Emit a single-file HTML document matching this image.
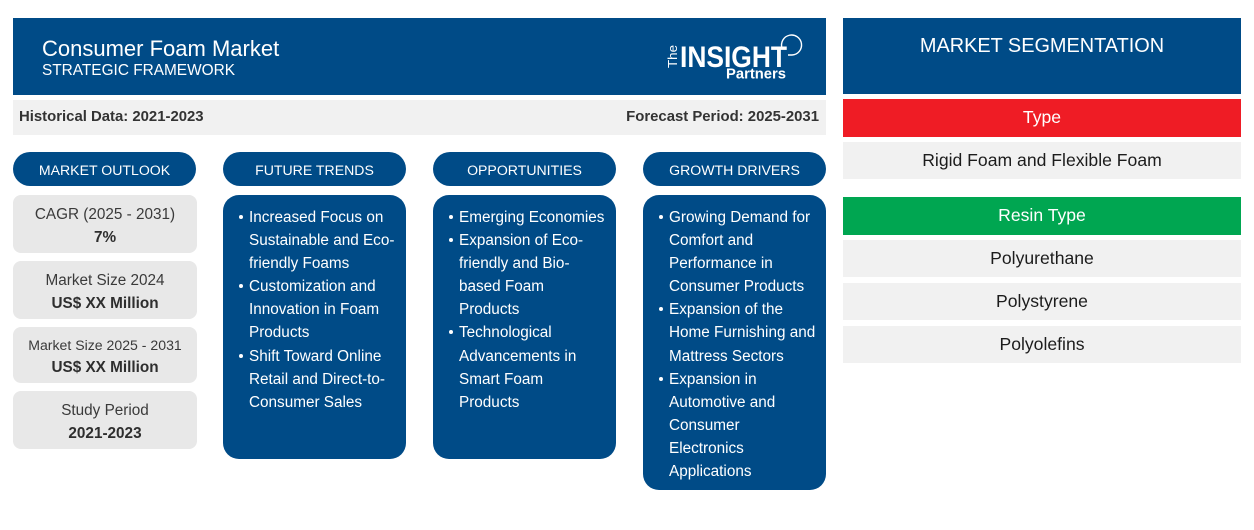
<!DOCTYPE html>
<html lang="en">
<head>
<meta charset="utf-8">
<title>Consumer Foam Market</title>
<style>
html,body{margin:0;padding:0;background:#fff}
body{width:1254px;height:530px;position:relative;overflow:hidden;font-family:"Liberation Sans",Arial,sans-serif}
div,span,ul,li{box-sizing:border-box}
.a{position:absolute}
.navy{background:#004b87;color:#fff}
.pill{top:152px;width:183px;height:34px;border-radius:17px;text-align:center;font-size:14.1px;line-height:36px}
.stat{left:13px;width:184px;background:#e8e8e8;border-radius:8px;text-align:center;color:#3a3a3a;font-size:15.3px}
.stat .l{position:absolute;left:0;width:100%;line-height:20px}
.stat b{position:absolute;left:0;width:100%;line-height:20px;color:#2e2e2e}
.card{top:195px;width:183px;border-radius:16px}
.card ul{list-style:none;margin:0;padding:0;position:absolute;top:10.6px;left:16px;font-size:15.3px;line-height:23.15px;white-space:nowrap}
.card li{position:relative;padding-left:10px}
.card li:before{content:"";position:absolute;left:0;top:9px;width:4px;height:4px;border-radius:50%;background:#fff}
.seg{left:843px;width:398px;text-align:center}
.item{background:#f1f1f1;color:#1c1c1c;font-size:17.6px;height:37px;line-height:37px}
.head{color:#fff;font-size:17.6px;height:38px;line-height:37px}
</style>
</head>
<body>

<div class="a navy" style="left:13px;top:18px;width:813px;height:77px">
  <div class="a" style="left:29px;top:17px;font-size:22px;line-height:27px;white-space:nowrap">Consumer Foam Market</div>
  <div class="a" style="left:29px;top:43px;font-size:15.4px;line-height:19px;white-space:nowrap">STRATEGIC FRAMEWORK</div>
  <svg class="a" style="left:650px;top:12px" width="145" height="56" viewBox="0 0 145 56">
    <text x="14" y="38" transform="rotate(-90 14 38)" font-family="Liberation Sans, Arial, sans-serif" font-size="13" fill="#fff" textLength="23" lengthAdjust="spacingAndGlyphs">The</text>
    <text x="17" y="37" font-family="Liberation Sans, Arial, sans-serif" font-size="30" font-weight="bold" fill="#fff" textLength="107" lengthAdjust="spacingAndGlyphs">INSIGHT</text>
    <text x="63" y="48.5" font-family="Liberation Sans, Arial, sans-serif" font-size="15" font-weight="bold" fill="#fff" textLength="60" lengthAdjust="spacingAndGlyphs">Partners</text>
    <path d="M119 18 A10 10 0 1 1 129 25 L125 25" fill="none" stroke="#fff" stroke-width="1.4"/>
  </svg>
</div>

<div class="a" style="left:13px;top:100px;width:813px;height:35px;background:#f1f1f1;color:#333;font-size:14.9px;font-weight:bold;line-height:35px">
  <span class="a" style="left:6px;white-space:nowrap">Historical Data: 2021-2023</span>
  <span class="a" style="right:7px;white-space:nowrap">Forecast Period: 2025-2031</span>
</div>

<div class="a navy pill" style="left:13px">MARKET OUTLOOK</div>
<div class="a navy pill" style="left:223px">FUTURE TRENDS</div>
<div class="a navy pill" style="left:433px">OPPORTUNITIES</div>
<div class="a navy pill" style="left:643px">GROWTH DRIVERS</div>

<div class="a stat" style="top:195px;height:58px">
  <div class="l" style="top:10px">CAGR (2025 - 2031)</div>
  <b style="top:33px">7%</b>
</div>
<div class="a stat" style="top:261px;height:58px">
  <div class="l" style="top:10px">Market Size 2024</div>
  <b style="top:33px">US$ XX Million</b>
</div>
<div class="a stat" style="top:327px;height:56px">
  <div class="l" style="top:8px;font-size:14.1px">Market Size 2025 - 2031</div>
  <b style="top:31px">US$ XX Million</b>
</div>
<div class="a stat" style="top:391px;height:58px">
  <div class="l" style="top:10px">Study Period</div>
  <b style="top:33px">2021-2023</b>
</div>

<div class="a navy card" style="left:223px;height:264px">
  <ul>
    <li>Increased Focus on<br>Sustainable and Eco-<br>friendly Foams</li>
    <li>Customization and<br>Innovation in Foam<br>Products</li>
    <li>Shift Toward Online<br>Retail and Direct-to-<br>Consumer Sales</li>
  </ul>
</div>

<div class="a navy card" style="left:433px;height:264px">
  <ul>
    <li>Emerging Economies</li>
    <li>Expansion of Eco-<br>friendly and Bio-<br>based Foam<br>Products</li>
    <li>Technological<br>Advancements in<br>Smart Foam<br>Products</li>
  </ul>
</div>

<div class="a navy card" style="left:643px;height:295px">
  <ul>
    <li>Growing Demand for<br>Comfort and<br>Performance in<br>Consumer Products</li>
    <li>Expansion of the<br>Home Furnishing and<br>Mattress Sectors</li>
    <li>Expansion in<br>Automotive and<br>Consumer<br>Electronics<br>Applications</li>
  </ul>
</div>

<div class="a navy seg" style="top:18px;height:76px;font-size:19.9px;line-height:57px">MARKET SEGMENTATION</div>
<div class="a seg head" style="top:99px;background:#ef1c25">Type</div>
<div class="a seg item" style="top:142px">Rigid Foam and Flexible Foam</div>
<div class="a seg head" style="top:197px;background:#00a651">Resin Type</div>
<div class="a seg item" style="top:240px">Polyurethane</div>
<div class="a seg item" style="top:283px">Polystyrene</div>
<div class="a seg item" style="top:326px">Polyolefins</div>

</body>
</html>
